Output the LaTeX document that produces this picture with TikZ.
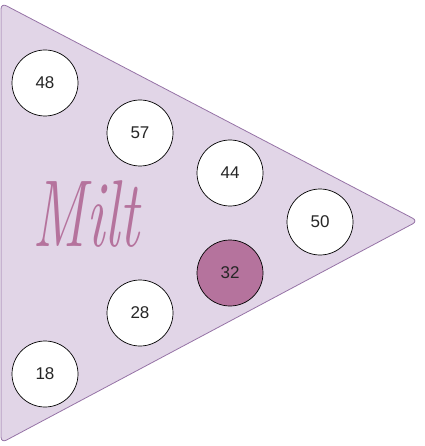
\documentclass[tikz,border=0pt]{standalone}
\usepackage{fontspec}
\setsansfont{Liberation Sans}
\begin{document}
\begin{tikzpicture}[x=1pt,y=-1pt,
  tri/.style={fill=triFill,draw=triLine,line width=0.8pt,rounded corners=6pt},
  num/.style={circle,draw=black,line width=0.7pt,fill=white,minimum size=66pt,inner sep=0pt,font=\sffamily\fontsize{17}{17}\selectfont,text=black!85},
  hot/.style={num,fill=hotFill}]
\definecolor{triFill}{HTML}{E1D5E7}
\definecolor{triLine}{HTML}{9673A6}
\definecolor{hotFill}{HTML}{B5739D}
\useasboundingbox (0,0) rectangle (424,446);
\draw[tri] (1,3) -- (418,221) -- (1,443) -- cycle;
\node[num] (n48) at (45,83) {48};
\node[num] (n57) at (140,133) {57};
\node[num] (n44) at (230,173) {44};
\node[num] (n50) at (320,222) {50};
\node[hot] (n32) at (230,273) {32};
\node[num] (n28) at (140,313) {28};
\node[num] (n18) at (45,374) {18};
\node[anchor=base,text=hotFill,xscale=0.64,inner sep=0pt,font=\fontsize{95}{95}\selectfont\itshape] (milt) at (86,246) {Milt};
\end{tikzpicture}
\end{document}
